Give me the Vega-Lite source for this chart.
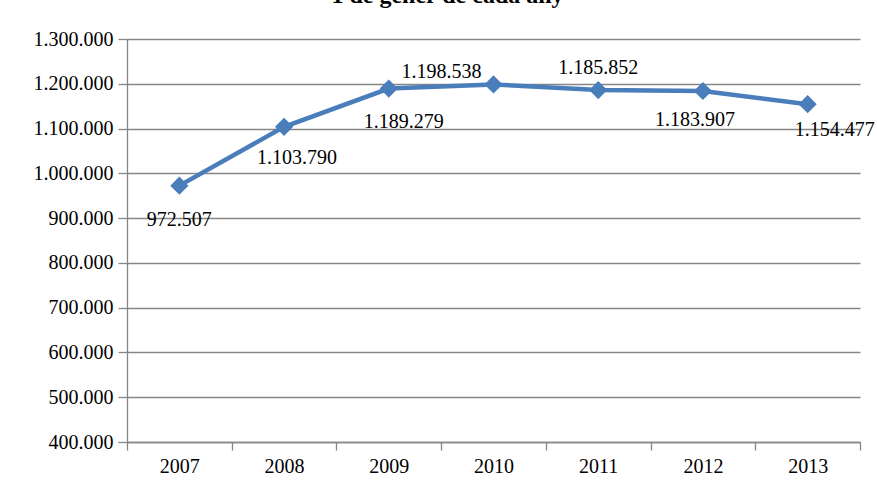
{
  "$schema": "https://vega.github.io/schema/vega-lite/v6.json",
  "width": 733,
  "height": 403,
  "autosize": {"type": "none"},
  "padding": {"left": 127, "top": 39, "right": 17, "bottom": 48},
  "config": {
    "font": "Liberation Serif",
    "view": {"stroke": null},
    "locale": {"number": {"decimal": ",", "thousands": ".", "grouping": [3], "currency": ["", " €"]}},
    "axis": {"labelFont": "Liberation Serif", "labelFontSize": 20, "labelColor": "#000000", "domainColor": "#868686", "tickColor": "#868686", "gridColor": "#868686", "domainWidth": 1.3, "tickWidth": 1.3, "gridWidth": 1.3}
  },
  "title": {"text": "1 de gener de cada any", "font": "Liberation Serif", "fontSize": 24, "fontWeight": "bold", "color": "#000000", "anchor": "middle", "dx": -46, "offset": 2, "baseline": "alphabetic"},
  "data": {"values": [
    {"year": "2007", "population": 972507},
    {"year": "2008", "population": 1103790},
    {"year": "2009", "population": 1189279},
    {"year": "2010", "population": 1198538},
    {"year": "2011", "population": 1185852},
    {"year": "2012", "population": 1183907},
    {"year": "2013", "population": 1154477}
  ]},
  "encoding": {
    "x": {"field": "year", "type": "ordinal", "scale": {"paddingInner": 0, "paddingOuter": 0},
      "axis": {"title": null, "labelAngle": 0, "tickBand": "extent", "tickSize": 8, "labelPadding": 6, "grid": false}},
    "y": {"field": "population", "type": "quantitative", "scale": {"domain": [400000, 1300000], "nice": false, "zero": false},
      "axis": {"title": null, "values": [400000, 500000, 600000, 700000, 800000, 900000, 1000000, 1100000, 1200000, 1300000], "format": ",d", "tickSize": 9, "labelPadding": 5, "grid": true}}
  },
  "layer": [
    {"mark": {"type": "line", "color": "#4A7EBB", "strokeWidth": 4.5}},
    {"mark": {"type": "point", "shape": "diamond", "filled": true, "opacity": 1, "color": "#4A7EBB", "size": 330}},
    {"transform": [{"filter": "datum.year == '2007'"}], "mark": {"type": "text", "fontSize": 20, "color": "#000000", "baseline": "middle", "dx": 0, "dy": 34}, "encoding": {"text": {"field": "population", "type": "quantitative", "format": ",d"}}},
    {"transform": [{"filter": "datum.year == '2008'"}], "mark": {"type": "text", "fontSize": 20, "color": "#000000", "baseline": "middle", "dx": 13, "dy": 31}, "encoding": {"text": {"field": "population", "type": "quantitative", "format": ",d"}}},
    {"transform": [{"filter": "datum.year == '2009'"}], "mark": {"type": "text", "fontSize": 20, "color": "#000000", "baseline": "middle", "dx": 15, "dy": 33}, "encoding": {"text": {"field": "population", "type": "quantitative", "format": ",d"}}},
    {"transform": [{"filter": "datum.year == '2010'"}], "mark": {"type": "text", "fontSize": 20, "color": "#000000", "baseline": "middle", "dx": -52, "dy": -12}, "encoding": {"text": {"field": "population", "type": "quantitative", "format": ",d"}}},
    {"transform": [{"filter": "datum.year == '2011'"}], "mark": {"type": "text", "fontSize": 20, "color": "#000000", "baseline": "middle", "dx": 0, "dy": -22}, "encoding": {"text": {"field": "population", "type": "quantitative", "format": ",d"}}},
    {"transform": [{"filter": "datum.year == '2012'"}], "mark": {"type": "text", "fontSize": 20, "color": "#000000", "baseline": "middle", "dx": -8, "dy": 29}, "encoding": {"text": {"field": "population", "type": "quantitative", "format": ",d"}}},
    {"transform": [{"filter": "datum.year == '2013'"}], "mark": {"type": "text", "fontSize": 20, "color": "#000000", "baseline": "middle", "dx": 27, "dy": 26}, "encoding": {"text": {"field": "population", "type": "quantitative", "format": ",d"}}}
  ]
}
